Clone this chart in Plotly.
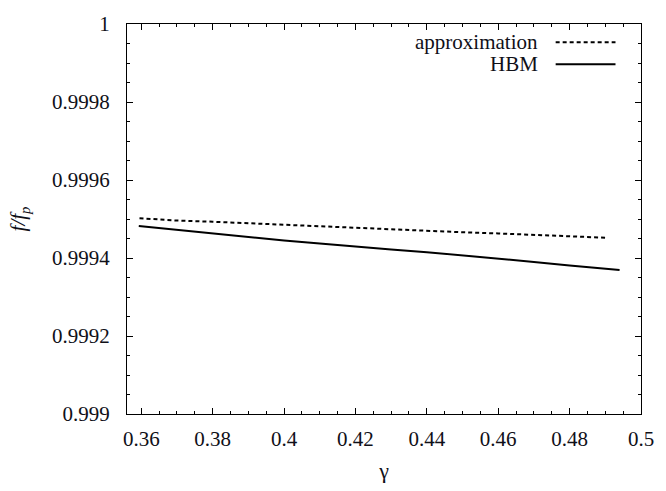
import plotly.graph_objects as go

gamma_approx = [0.3595, 0.37, 0.38, 0.39, 0.40, 0.41, 0.42, 0.43, 0.44, 0.45, 0.46, 0.47, 0.48, 0.49]
f_approx = [0.999502, 0.999496, 0.999493, 0.999489, 0.999485, 0.999481, 0.999478,
            0.999474, 0.999470, 0.999466, 0.999463, 0.999459, 0.999455, 0.999452]

gamma_hbm = [0.3593, 0.37, 0.38, 0.39, 0.40, 0.41, 0.42, 0.43, 0.44, 0.45, 0.46,
             0.47, 0.48, 0.4896, 0.494]
f_hbm = [0.999482, 0.999472, 0.999462, 0.999453, 0.999445, 0.999437, 0.999429,
         0.999422, 0.999415, 0.999407, 0.999399, 0.999390, 0.999381, 0.999373, 0.999369]

x_ticks = [0.36, 0.38, 0.40, 0.42, 0.44, 0.46, 0.48, 0.50]
x_tick_text = ["0.36", "0.38", "0.4", "0.42", "0.44", "0.46", "0.48", "0.5"]
y_ticks = [0.999, 0.9992, 0.9994, 0.9996, 0.9998, 1.0]
y_tick_text = ["0.999", "0.9992", "0.9994", "0.9996", "0.9998", "1"]

legend_names = ["approximation", "HBM"]
FONT = "Liberation Serif"
TXT = "rgb(16,16,24)"

fig = go.Figure()
fig.add_trace(go.Scatter(x=gamma_approx, y=f_approx, mode="lines",
                         line=dict(color="black", width=2, dash="4px,3px"),
                         name=legend_names[0], showlegend=False))
fig.add_trace(go.Scatter(x=gamma_hbm, y=f_hbm, mode="lines",
                         line=dict(color="black", width=2),
                         name=legend_names[1], showlegend=False))

axis_common = dict(
    showline=True, linecolor="black", linewidth=1, mirror="allticks",
    ticks="inside", ticklen=6, tickwidth=1, tickcolor="black",
    showgrid=False, zeroline=False,
    tickfont=dict(family=FONT, size=21, color=TXT),
)

fig.update_xaxes(range=[0.356, 0.5], tickvals=x_ticks, ticktext=x_tick_text,
                 minor=dict(ticks="inside", ticklen=3, dtick=0.005, tick0=0.36,
                            tickcolor="black", showgrid=False),
                 ticklabelstandoff=6,
                 title=dict(text="γ", font=dict(family=FONT, size=22, color=TXT), standoff=12),
                 **axis_common)
fig.update_yaxes(range=[0.999, 1.0], tickvals=y_ticks, ticktext=y_tick_text,
                 minor=dict(ticks="inside", ticklen=3, dtick=0.00005, tick0=0.999,
                            tickcolor="black", showgrid=False),
                 ticklabelstandoff=12,
                 title=dict(text="<i>f/f<sub>p</sub></i>", font=dict(family=FONT, size=21, color=TXT),
                            standoff=20),
                 **axis_common)

# legend (gnuplot style: text right-justified, sample line to the right)
leg_rows = [(32, "4px,3px"), (55, "solid")]
for (ypx, dash), name in zip(leg_rows, legend_names):
    yp = 1 - (ypx - 13) / 406
    fig.add_annotation(xref="paper", yref="paper", x=(548 - 127) / 524, y=yp,
                       xanchor="right", yanchor="middle", text=name, showarrow=False,
                       font=dict(family=FONT, size=21, color=TXT))
    fig.add_shape(type="line", xref="paper", yref="paper",
                  x0=(564 - 127) / 524, x1=(625 - 127) / 524, y0=yp, y1=yp,
                  line=dict(color="black", width=2, dash=dash))

fig.update_layout(
    width=666, height=491,
    margin=dict(l=127, r=15, t=13, b=72),
    plot_bgcolor="white", paper_bgcolor="white",
    font=dict(family=FONT, color=TXT),
)

fig.write_html("out.html")
